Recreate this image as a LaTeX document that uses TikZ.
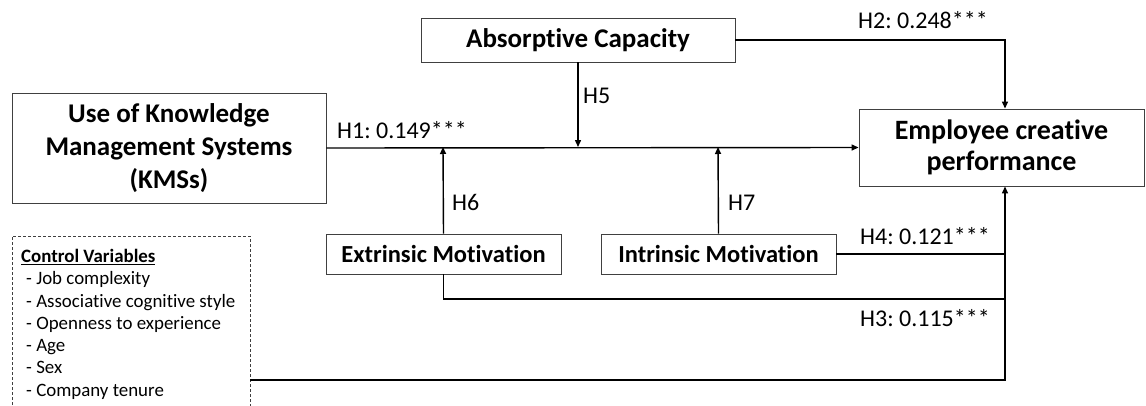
\documentclass[tikz,border=0pt]{standalone}
\usepackage{fontspec}
\setmainfont{Carlito}[Ligatures=NoCommon]
\usetikzlibrary{arrows.meta}
\frenchspacing
\begin{document}
\begin{tikzpicture}[x=1pt,y=-1pt,
  box/.style={draw=black!75,line width=0.9pt,inner sep=0pt,align=center,font=\bfseries},
  conn/.style={line width=1.4pt,black},
  arr/.style={conn,-{Triangle[length=7pt,width=6pt]}},
  lab/.style={anchor=base west,inner sep=0pt,font=\fontsize{24}{26}\selectfont}]
\useasboundingbox (0,0) rectangle (1146,405);
\clip (0,0) rectangle (1146,405);
\node[box,minimum width=314pt,minimum height=110pt,font=\fontsize{27}{33}\selectfont\bfseries] (kms) at (169,148) {Use of Knowledge\\Management Systems\\(KMSs)};
\node[box,minimum width=314pt,minimum height=44pt,font=\fontsize{27}{30}\selectfont\bfseries] (abs) at (578,40) {Absorptive Capacity};
\node[box,minimum width=285pt,minimum height=77pt,font=\fontsize{28}{31}\selectfont\bfseries] (ecp) at (1001.5,147.5) {Employee creative\\performance};
\node[box,minimum width=235pt,minimum height=40pt,font=\fontsize{24.5}{28}\selectfont\bfseries] (ext) at (443.5,254) {Extrinsic Motivation};
\node[box,minimum width=235pt,minimum height=40pt,font=\fontsize{24.5}{28}\selectfont\bfseries] (int) at (718.5,254) {Intrinsic Motivation};
\draw[dashed,line width=0.8pt,black!75,dash pattern=on 3pt off 2pt] (12,430) -- (12,236) -- (250,236) -- (250,430);
\node[anchor=north west,align=left,inner sep=0pt,font=\fontsize{18.9}{22.3}\selectfont] (ctl) at (21,249) {\textbf{\underline{Control Variables}}\\
\hspace*{5pt}- Job complexity\\
\hspace*{5pt}- Associative cognitive style\\
\hspace*{5pt}- Openness to experience\\
\hspace*{5pt}- Age\\
\hspace*{5pt}- Sex\\
\hspace*{5pt}- Company tenure};
\coordinate (cs) at (250,380);
\coordinate (j) at (1005,380);
\coordinate (m5) at (578,147);
\coordinate (m6) at (443,147);
\coordinate (m7) at (718,147);
% main path
\draw[arr] (kms.east) -- (ecp.west);
\draw[arr] (abs.south) -- (m5);
\draw[arr] (ext.north) -- (m6);
\draw[arr] (int.north) -- (m7);
\draw[arr] (abs.east) -| (ecp.north -| j);
\draw[conn] (int.east) -- (int.east -| j);
\draw[conn] (ext.south) |- (1005,299);
\draw[arr] (cs) -- (j) -- (ecp.south -| j);
% labels
\node[lab] (l1) at (337,138) {H1: 0.149***};
\node[lab] (l2) at (858,28) {H2: 0.248***};
\node[lab] (l5) at (583,103) {H5};
\node[lab] (l6) at (452,210) {H6};
\node[lab] (l7) at (728,210) {H7};
\node[lab] (l4) at (860,244) {H4: 0.121***};
\node[lab] (l3) at (860,326) {H3: 0.115***};
\end{tikzpicture}
\end{document}
